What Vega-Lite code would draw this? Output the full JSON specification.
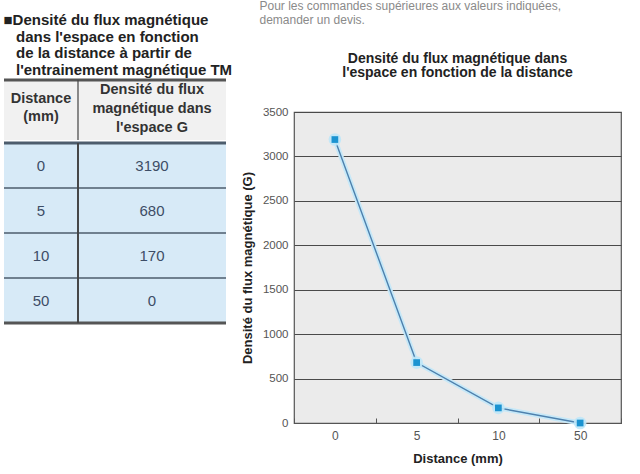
{
  "$schema": "https://vega.github.io/schema/vega-lite/v6.json",
  "padding": {"left": 2, "top": 0, "right": 4, "bottom": 2},
  "background": "white",
  "config": {"font": "Liberation Sans", "view": {"stroke": null}},
  "datasets": {
    "flux": [
      {"distance": "0", "flux": 3190},
      {"distance": "5", "flux": 680},
      {"distance": "10", "flux": 170},
      {"distance": "50", "flux": 0}
    ],
    "header": [{"row": "h"}]
  },
  "spacing": 7,
  "hconcat": [
    {
      "spacing": 0,
      "vconcat": [
        {
          "width": 222, "height": 1,
          "data": {"name": "header"},
          "title": {
            "text": ["■Densité du flux magnétique", "\u200b\u00a0\u00a0\u00a0dans l'espace en fonction", "\u200b\u00a0\u00a0\u00a0de la distance à partir de", "\u200b\u00a0\u00a0\u00a0l'entrainement magnétique TM"],
            "orient": "bottom", "anchor": "start", "fontSize": 15, "fontWeight": "bold", "color": "#222222", "lineHeight": 16.5, "offset": -3
          },
          "mark": {"type": "rule", "opacity": 0},
          "encoding": {}
        },
        {
          "spacing": 0,
          "vconcat": [
            {
              "width": 222, "height": 60,
              "data": {"name": "header"},
              "layer": [
                {"mark": {"type": "rect", "fill": "#f1f1f1"},
                 "encoding": {"y": {"field": "row", "type": "nominal", "axis": null, "scale": {"paddingInner": 0, "paddingOuter": 0}}}},
                {"mark": {"type": "rule", "stroke": "#555555", "strokeWidth": 3},
                 "encoding": {"y": {"field": "row", "type": "nominal", "bandPosition": 0, "axis": null}}},
                {"mark": {"type": "rule", "stroke": "#444444", "strokeWidth": 1.2},
                 "encoding": {"x": {"datum": "c2", "type": "nominal", "bandPosition": 0, "axis": null, "scale": {"domain": ["c1", "c2", "c3"], "paddingInner": 0, "paddingOuter": 0}}}},
                {"mark": {"type": "text", "fontSize": 14.5, "fontWeight": "bold", "color": "#333333", "lineHeight": 18, "lineBreak": "\n", "baseline": "top", "dy": 12},
                 "encoding": {"x": {"datum": "c1", "type": "nominal", "axis": null}, "y": {"field": "row", "type": "nominal", "bandPosition": 0, "axis": null}, "text": {"value": "Distance\n(mm)"}}},
                {"mark": {"type": "text", "fontSize": 14.5, "fontWeight": "bold", "color": "#333333", "lineHeight": 19, "lineBreak": "\n", "baseline": "top", "dy": 3},
                 "encoding": {"x": {"datum": "c2", "type": "nominal", "bandPosition": 1, "axis": null}, "y": {"field": "row", "type": "nominal", "bandPosition": 0, "axis": null}, "text": {"value": "Densité du flux\nmagnétique dans\nl'espace  G"}}}
              ]
            },
            {
              "width": 222, "height": 180,
              "data": {"name": "flux"},
              "encoding": {"y": {"field": "distance", "type": "nominal", "sort": null, "axis": null, "scale": {"paddingInner": 0, "paddingOuter": 0}}},
              "layer": [
                {"mark": {"type": "rect", "fill": "#d7eaf7"}},
                {"mark": {"type": "rule", "stroke": "#4d5d6d"},
                 "encoding": {"y": {"field": "distance", "type": "nominal", "sort": null, "bandPosition": 0, "axis": null},
                              "strokeWidth": {"condition": {"test": "datum.distance === '0'", "value": 3}, "value": 1.5}}},
                {"transform": [{"filter": "datum.distance === '50'"}],
                 "mark": {"type": "rule", "stroke": "#555555", "strokeWidth": 3},
                 "encoding": {"y": {"field": "distance", "type": "nominal", "sort": null, "bandPosition": 1, "axis": null}}},
                {"mark": {"type": "rule", "stroke": "#444444", "strokeWidth": 1.2},
                 "encoding": {"y": null, "x": {"datum": "c2", "type": "nominal", "bandPosition": 0, "axis": null, "scale": {"domain": ["c1", "c2", "c3"], "paddingInner": 0, "paddingOuter": 0}}}},
                {"mark": {"type": "text", "fontSize": 15, "color": "#3d4d66"},
                 "encoding": {"x": {"datum": "c1", "type": "nominal", "axis": null}, "text": {"field": "distance"}}},
                {"mark": {"type": "text", "fontSize": 15, "color": "#3d4d66"},
                 "encoding": {"x": {"datum": "c2", "type": "nominal", "bandPosition": 1, "axis": null}, "text": {"field": "flux"}}}
              ]
            }
          ]
        }
      ]
    },
    {
      "spacing": 24,
      "vconcat": [
        {
          "width": 327, "height": 1,
          "data": {"name": "header"},
          "title": {
            "text": ["Pour les commandes supérieures aux valeurs indiquées,", "demander un devis."],
            "orient": "bottom", "anchor": "start", "fontSize": 12, "fontWeight": "normal", "color": "#8a8a8a", "lineHeight": 14, "dx": -34, "dy": -15, "offset": 0
          },
          "mark": {"type": "rule", "opacity": 0},
          "encoding": {}
        },
        {
          "width": 327, "height": 311,
          "data": {"name": "flux"},
          "title": {
            "text": ["Densité du flux magnétique dans", "l'espace en fonction de la distance"],
            "anchor": "middle", "fontSize": 14, "fontWeight": "bold", "color": "#222222", "lineHeight": 14.5, "offset": 26
          },
          "view": {"fill": "#ebebeb", "stroke": "#555555", "strokeWidth": 1.2},
          "encoding": {
            "x": {"field": "distance", "type": "nominal", "sort": null, "title": "Distance (mm)",
                  "scale": {"paddingInner": 0, "paddingOuter": 0},
                  "axis": {"labelAngle": 0, "labelFontSize": 12, "labelColor": "#555555", "labelPadding": 12,
                           "domainColor": "#555555", "tickColor": "#555555", "tickBand": "extent", "tickSize": -5,
                           "titleFontSize": 13, "titleFontWeight": "bold", "titleColor": "#222222", "titlePadding": 11}},
            "y": {"field": "flux", "type": "quantitative", "title": "Densité du flux magnétique (G)",
                  "scale": {"domain": [0, 3500], "nice": false},
                  "axis": {"values": [0, 500, 1000, 1500, 2000, 2500, 3000, 3500], "format": "d", "labelFontSize": 11.5, "labelColor": "#555555",
                           "labelPadding": 6, "ticks": false, "domain": false, "gridColor": "#4a4a4a", "gridWidth": 1.2,
                           "titleFontSize": 13, "titleFontWeight": "bold", "titleColor": "#222222", "titlePadding": 8}}
          },
          "layer": [
            {"mark": {"type": "line", "stroke": "#c6e8f8", "strokeWidth": 5}},
            {"mark": {"type": "line", "stroke": "#4d80ad", "strokeWidth": 1.4}},
            {"mark": {"type": "point", "shape": "circle", "filled": true, "color": "#bfe7f8", "size": 160, "opacity": 0.9}},
            {"mark": {"type": "point", "shape": "square", "filled": true, "color": "#1b93d1", "size": 45, "opacity": 1}}
          ]
        }
      ]
    }
  ]
}
